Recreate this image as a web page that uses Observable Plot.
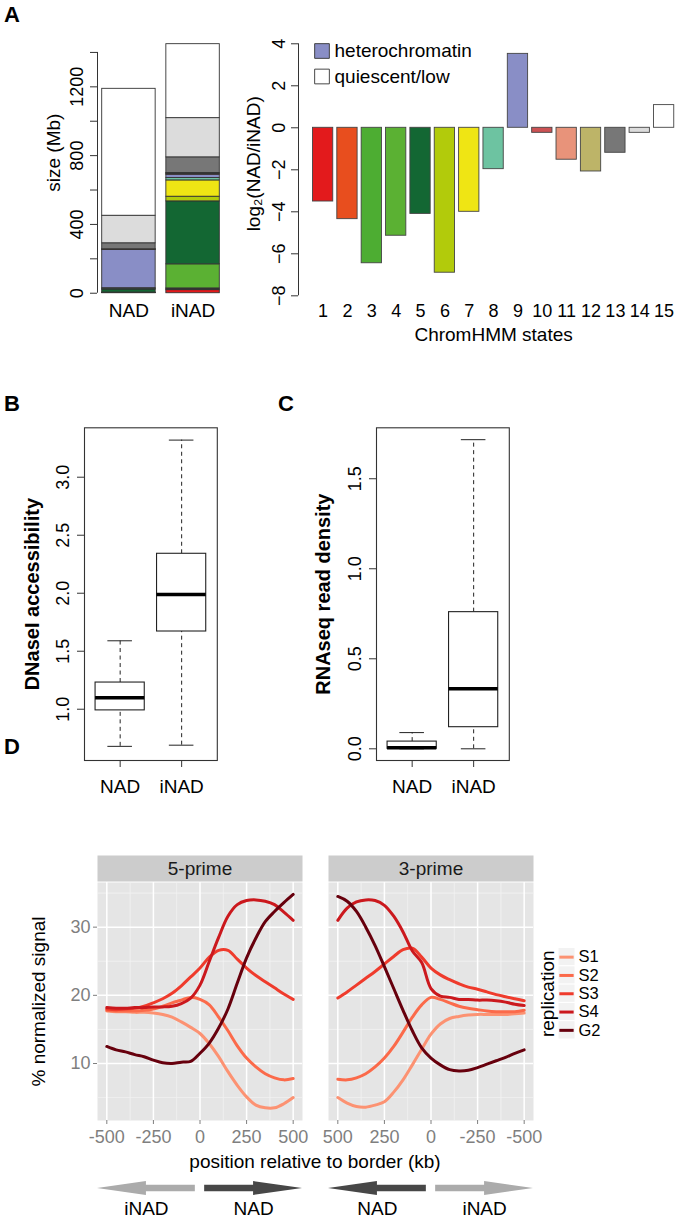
<!DOCTYPE html>
<html><head><meta charset="utf-8">
<script src="https://cdn.jsdelivr.net/npm/d3@7"></script>
<script src="https://cdn.jsdelivr.net/npm/@observablehq/plot@0.6"></script>
<style>
html,body{margin:0;padding:0;background:#fff;}
#fig{position:relative;width:675px;height:1218px;overflow:hidden;background:#fff;font-family:"Liberation Sans",Arial,Helvetica,sans-serif;color:#000;}
.tag{position:absolute;font-weight:bold;font-size:22px;line-height:22px;}
.xt{position:absolute;font-size:19px;line-height:22px;text-align:center;}
</style></head><body><div id="fig"></div>
<script>
// ---------------- DATA ----------------
// Panel A
const stateIds = [1,2,3,4,5,6,7,8,9,10,11,12,13,14,15];
const stateColors = ["#E31A1C","#E84E1E","#4DAD32","#5BB133","#136733","#B2CB0B","#EFE514","#6DC3A1","#898EC6","#CC5254","#E8937A","#BDB468","#777777","#DCDCDC","#FFFFFF"];
const regionGroups = ["NAD","iNAD"];
const nadSizeMb  = [1, 0.5, 0.5, 2, 18, 0.3, 4, 3, 222, 2, 1.5, 0.6, 35, 160, 738];
const inadSizeMb = [18, 5, 5, 140, 366, 27, 95, 14, 19, 3, 4, 3, 91, 228, 430];
const sizeTicks = [0,200,400,600,800,1000,1200,1400];
const sizeTickLabels = [0,400,800,1200];
const log2Ratio = [-3.51,-4.35,-6.45,-5.14,-4.10,-6.90,-4.00,-1.97,3.52,-0.24,-1.52,-2.08,-1.19,-0.24,1.08];
const ratioTicks = [-8,-6,-4,-2,0,2,4];
const legendStates = ["heterochromatin","quiescent/low"];
const legendStateIndex = [8, 14];
// Panel B (DNaseI accessibility)
const dnaseLow = [0.68, 0.69];
const dnaseQ1  = [0.99, 1.67];
const dnaseMed = [1.10, 1.99];
const dnaseQ3  = [1.23, 2.34];
const dnaseHigh= [1.59, 3.32];
const dnaseTicks = [1.0,1.5,2.0,2.5,3.0];
// Panel C (RNAseq read density)
const rnaLow = [0.0, 0.0];
const rnaQ1  = [0.0, 0.12];
const rnaMed = [0.006, 0.333];
const rnaQ3  = [0.04, 0.759];
const rnaHigh= [0.09, 1.717];
const rnaTicks = [0.0,0.5,1.0,1.5];
// Panel D
const facets = ["5-prime","3-prime"];
const facetSign = [1, -1];
const positionKb = [-500,-450,-400,-350,-300,-250,-200,-150,-100,-50,0,50,100,150,200,250,300,350,400,450,500];
const positionTicks = [-500,-250,0,250,500];
const seriesNames = ["S1","S2","S3","S4","G2"];
const seriesColors = ["#FC9272","#FB6A4A","#EF3B2C","#CB181D","#67000D"];
const fiveS1 = [17.7,17.6,17.6,17.5,17.5,17.4,17.2,16.8,16.1,15.3,14.4,12.9,11.0,8.8,6.8,5.1,3.9,3.5,3.5,4.1,5.0];
const fiveS2 = [17.8,17.7,17.7,17.7,17.8,18.0,18.4,18.9,19.3,19.7,19.4,18.6,16.8,14.8,12.6,10.8,9.5,8.5,7.9,7.6,7.8];
const fiveS3 = [18.0,17.9,18.0,18.1,18.4,18.9,19.5,20.3,21.4,22.7,24.0,25.6,26.6,26.6,25.3,24.0,22.9,22.0,21.1,20.2,19.4];
const fiveS4 = [18.2,18.1,18.1,18.2,18.2,18.3,18.3,18.4,18.8,19.6,21.5,25.0,28.5,31.6,33.3,33.9,34.0,33.8,33.3,32.2,31.0];
const fiveG2 = [12.5,12.0,11.7,11.3,11.0,10.5,10.1,10.0,10.2,10.3,11.5,13.0,15.2,18.0,21.8,25.5,28.4,30.8,32.3,33.6,34.8];
const threeS1 = [17.4,17.3,17.2,17.2,17.2,17.2,17.1,16.9,16.6,15.8,14.3,12.1,9.8,7.6,5.8,4.4,3.9,3.6,3.7,4.2,5.0];
const threeS2 = [17.8,17.6,17.6,17.6,17.7,17.9,18.1,18.4,18.9,19.4,19.7,18.6,16.8,14.6,12.5,10.8,9.5,8.5,7.9,7.6,7.7];
const threeS3 = [19.2,19.5,19.8,20.1,20.5,20.9,21.2,21.7,22.3,23.0,24.0,25.6,26.9,26.7,25.7,24.6,23.5,22.5,21.5,20.5,19.6];
const threeS4 = [18.5,18.7,19.0,19.2,19.3,19.3,19.4,19.4,19.7,19.9,21.0,24.8,26.5,29.3,31.6,33.2,33.9,34.0,33.7,32.8,31.0];
const threeG2 = [12.0,11.5,10.9,10.4,9.9,9.4,9.0,8.9,9.1,9.8,10.8,12.3,14.8,17.8,21.0,24.2,27.3,30.0,32.3,33.8,34.5];
// arrows under panel D (tail -> tip, in kb)
const arrowLabels = ["iNAD","NAD"];
const arrowTail = [-25, 25];
const arrowTip = [-550, 550];
const arrowFill = ["#ABABAB","#474747"];

// ---------------- LAYOUT HELPERS ----------------
const FONT = '"Liberation Sans", Arial, Helvetica, sans-serif';
const fig = document.getElementById("fig");
const baseStyle = {fontFamily: FONT, fontSize: "18px", background: "transparent", color: "#000", overflow: "visible"};
function place(el, left, top) {
  el.style.position = "absolute";
  el.style.left = left + "px";
  el.style.top = top + "px";
  el.style.maxWidth = "none";
  fig.appendChild(el);
}
function tag(text, left, top, cls = "tag") {
  const d = document.createElement("div");
  d.className = cls; d.textContent = text;
  d.style.left = left + "px"; d.style.top = top + "px";
  fig.appendChild(d);
  return d;
}
const minus = d => d < 0 ? "\u2212" + Math.abs(d) : String(d);
const mid = {textAnchor: "middle", lineAnchor: "middle"};

// ---------------- PANEL A (stacked sizes) ----------------
const barXDomain = [0.112, 2.488];
const stackRows = [];
[nadSizeMb, inadSizeMb].forEach((sizes, gi) => {
  let acc = 0; const x1 = 0.2 + gi * 1.2;
  sizes.forEach((v, si) => {
    stackRows.push({group: regionGroups[gi], x1, x2: x1 + 1, y1: acc, y2: acc + v, color: stateColors[si]});
    acc += v;
  });
});
const pa1 = Plot.plot({
  width: 235, height: 330, marginLeft: 97, marginRight: 11, marginTop: 33.7, marginBottom: 27.3,
  x: {domain: barXDomain, axis: null},
  y: {domain: [-58, 1506], axis: null},
  color: {type: "identity"},
  style: baseStyle,
  marks: [
    Plot.rect(stackRows, {x1: "x1", x2: "x2", y1: "y1", y2: "y2", fill: "color", stroke: "#333", strokeWidth: 0.9}),
    Plot.ruleX([barXDomain[0]], {y1: sizeTicks[0], y2: sizeTicks[sizeTicks.length - 1], stroke: "#333"}),
    Plot.axisY({ticks: sizeTicks, tickSize: 7, tickFormat: () => "", label: null, color: "#333"}),
    Plot.text(sizeTickLabels, {...mid, y: d => d, text: d => String(d), frameAnchor: "left", rotate: -90, dx: -20, fontSize: 18}),
    Plot.text(regionGroups, {...mid, x: (d, i) => 0.7 + 1.2 * i, text: d => d, frameAnchor: "bottom", dy: 7.5, fontSize: 19}),
    Plot.text(["size (Mb)"], {...mid, text: d => d, frameAnchor: "left", rotate: -90, dx: -44, dy: -16, fontSize: 19})
  ]
});
place(pa1, 0, 0);

// ---------------- PANEL A (log2 ratio) ----------------
const ratioXDomain = [-0.512, 18.712];
const pa2 = Plot.plot({
  width: 445, height: 345, marginLeft: 68, marginRight: 0, marginTop: 33.2, marginBottom: 39.6,
  x: {domain: ratioXDomain, range: [68, 458.2], axis: null},
  y: {domain: [-8.48, 4.48], axis: null},
  color: {type: "identity"},
  style: baseStyle,
  marks: [
    Plot.rect(stateIds, {x1: (d, i) => 0.2 + 1.2 * i, x2: (d, i) => 1.2 + 1.2 * i, y1: 0, y2: (d, i) => log2Ratio[i],
      fill: (d, i) => stateColors[i], stroke: "#444", strokeWidth: 0.9}),
    Plot.ruleX([ratioXDomain[0]], {y1: ratioTicks[0], y2: ratioTicks[ratioTicks.length - 1], stroke: "#333"}),
    Plot.axisY({ticks: ratioTicks, tickSize: 7, tickFormat: () => "", label: null, color: "#333"}),
    Plot.text(ratioTicks, {...mid, y: d => d, text: minus, frameAnchor: "left", rotate: -90, dx: -19, fontSize: 18}),
    Plot.text(stateIds, {...mid, x: (d, i) => 0.7 + 1.2 * i, text: d => String(d), frameAnchor: "bottom", dy: 5, fontSize: 18}),
    Plot.text(["ChromHMM states"], {...mid, x: () => (ratioXDomain[0] + ratioXDomain[1]) / 2, text: d => d, frameAnchor: "bottom", dy: 29, fontSize: 19}),
    Plot.text(["log\u2082(NAD/iNAD)"], {...mid, text: d => d, frameAnchor: "left", rotate: -90, dx: -45, dy: -6, fontSize: 19}),
    ...legendStates.map((name, k) => Plot.dot([name], {frameAnchor: "top-left", dx: 23.5, dy: 17.3 + 25.5 * k,
      symbol: "square", r: 8.3, fill: stateColors[legendStateIndex[k]], stroke: "#333", strokeWidth: 0.9})),
    ...legendStates.map((name, k) => Plot.text([name], {frameAnchor: "top-left", dx: 36, dy: 17.3 + 25.5 * k,
      text: d => d, textAnchor: "start", lineAnchor: "middle", fontSize: 19}))
  ]
});
place(pa2, 230, 0);

// ---------------- PANELS B & C (box plots) ----------------
function boxPanel({low, q1, med, q3, high, ticks, fmt, yDomain, title, width, marginLeft, titleDx}) {
  const boxXDomain = [0.42, 2.58];
  return Plot.plot({
    width, height: 460, marginLeft, marginRight: width - marginLeft - 132.8, marginTop: 87.3, marginBottom: 40,
    x: {domain: boxXDomain, axis: null},
    y: {domain: yDomain, axis: null},
    style: baseStyle,
    marks: [
      Plot.ruleX(regionGroups, {x: (d, i) => i + 1, y1: (d, i) => q3[i], y2: (d, i) => high[i], strokeDasharray: "4,3.5", stroke: "#222"}),
      Plot.ruleX(regionGroups, {x: (d, i) => i + 1, y1: (d, i) => low[i], y2: (d, i) => q1[i], strokeDasharray: "4,3.5", stroke: "#222"}),
      Plot.ruleY(regionGroups, {y: (d, i) => high[i], x1: (d, i) => i + 0.8, x2: (d, i) => i + 1.2, stroke: "#222"}),
      Plot.ruleY(regionGroups, {y: (d, i) => low[i], x1: (d, i) => i + 0.8, x2: (d, i) => i + 1.2, stroke: "#222"}),
      Plot.rect(regionGroups, {x1: (d, i) => i + 0.6, x2: (d, i) => i + 1.4, y1: (d, i) => q1[i], y2: (d, i) => q3[i], fill: "white", stroke: "#222", strokeWidth: 1.1}),
      Plot.ruleY(regionGroups, {y: (d, i) => med[i], x1: (d, i) => i + 0.6, x2: (d, i) => i + 1.4, stroke: "#000", strokeWidth: 3.5}),
      Plot.frame({stroke: "#333", strokeWidth: 1.1}),
      Plot.axisY({ticks, tickSize: 7, tickFormat: () => "", label: null, color: "#333"}),
      Plot.text(ticks, {...mid, y: d => d, text: fmt, frameAnchor: "left", rotate: -90, dx: -21, fontSize: 18}),
      Plot.axisX({ticks: [1, 2], tickSize: 7, tickFormat: () => "", label: null, color: "#333"}),
      Plot.text(regionGroups, {...mid, x: (d, i) => i + 1, text: d => d, frameAnchor: "bottom", dy: 26, fontSize: 19}),
      Plot.text([title], {...mid, text: d => d, frameAnchor: "left", rotate: -90, dx: titleDx, fontWeight: "bold", fontSize: 20})
    ]
  });
}
const pb = boxPanel({low: dnaseLow, q1: dnaseQ1, med: dnaseMed, q3: dnaseQ3, high: dnaseHigh,
  ticks: dnaseTicks, fmt: d => d.toFixed(1), yDomain: [0.558, 3.426], title: "DNaseI accessibility",
  width: 240, marginLeft: 84, titleDx: -52});
place(pb, 0, 340);
const pc = boxPanel({low: rnaLow, q1: rnaQ1, med: rnaMed, q3: rnaQ3, high: rnaHigh,
  ticks: rnaTicks, fmt: d => d.toFixed(1), yDomain: [-0.065, 1.783], title: "RNAseq read density",
  width: 250, marginLeft: 96, titleDx: -53});
place(pc, 280, 340);

// ---------------- PANEL D ----------------
const fiveSeries = [fiveS1, fiveS2, fiveS3, fiveS4, fiveG2];
const threeSeries = [threeS1, threeS2, threeS3, threeS4, threeG2];
const profileRows = [];
[fiveSeries, threeSeries].forEach((set, fi) => {
  set.forEach((vals, si) => {
    vals.forEach((v, k) => profileRows.push({facet: facets[fi], series: seriesNames[si], xp: facetSign[fi] * positionKb[k], v}));
  });
});
const xTickRows = [];
facets.forEach((f, fi) => positionTicks.forEach(t => xTickRows.push({facet: f, xp: facetSign[fi] * t, label: String(t)})));
const dXDomain = [-550, 550];
const fxOpts = {domain: facets, padding: 0.112, axis: null};
const dW = 600, dML = 96, dMR = 66;

const dStrip = Plot.plot({
  width: dW, height: 26, marginLeft: dML, marginRight: dMR, marginTop: 0, marginBottom: 0,
  fx: fxOpts, style: baseStyle,
  marks: [
    Plot.frame({fill: "#CCCCCC", stroke: null}),
    Plot.text(facets, {...mid, fx: d => d, text: d => d, frameAnchor: "middle", fontSize: 19, fill: "#1A1A1A"})
  ]
});
place(dStrip, 0, 855);

const dMain = Plot.plot({
  width: dW, height: 300, marginLeft: dML, marginRight: dMR, marginTop: 22, marginBottom: 40,
  fx: fxOpts,
  x: {domain: dXDomain, axis: null},
  y: {domain: [1.64, 36.55], axis: null},
  color: {domain: seriesNames, range: seriesColors},
  style: baseStyle,
  marks: [
    Plot.frame({fill: "#E5E5E5", stroke: null}),
    Plot.gridX({ticks: [-375, -125, 125, 375], stroke: "#F2F2F2", strokeOpacity: 1, strokeWidth: 0.8}),
    Plot.gridY({ticks: [5, 15, 25, 35], stroke: "#F2F2F2", strokeOpacity: 1, strokeWidth: 0.8}),
    Plot.gridX({ticks: positionTicks, stroke: "#FFFFFF", strokeOpacity: 1, strokeWidth: 1.5}),
    Plot.gridY({ticks: [10, 20, 30], stroke: "#FFFFFF", strokeOpacity: 1, strokeWidth: 1.5}),
    Plot.line(profileRows, {fx: "facet", x: "xp", y: "v", z: "series", stroke: "series", strokeWidth: 3, curve: "catmull-rom"}),
    Plot.axisY({ticks: [10, 20, 30], tickSize: 4, tickPadding: 3, color: "#7F7F7F", fontSize: 18, label: null}),
    Plot.axisX({ticks: positionTicks, tickSize: 4, tickFormat: () => "", color: "#7F7F7F", label: null}),
    Plot.text(xTickRows, {...mid, fx: "facet", x: "xp", text: "label", frameAnchor: "bottom", dy: 17, fill: "#7F7F7F", fontSize: 18}),
    Plot.text([facets[0]], {...mid, fx: d => d, text: () => "% normalized signal", frameAnchor: "left", rotate: -90, dx: -59, fontSize: 19})
  ]
});
place(dMain, 0, 860);

// legend
const dLegend = Plot.plot({
  width: 135, height: 120, margin: 0,
  x: {domain: [0, 1], range: [18, 35], axis: null},
  y: {domain: [-0.5, 4.5], range: [17.5, 109], axis: null},
  color: {domain: seriesNames, range: seriesColors},
  style: baseStyle,
  marks: [
    Plot.rect(seriesNames, {x1: 0, x2: 1, y1: (d, i) => i - 0.5, y2: (d, i) => i + 0.5, fill: "#F2F2F2", stroke: "#FFFFFF", strokeWidth: 1}),
    Plot.ruleY(seriesNames, {y: (d, i) => i, x1: 0.08, x2: 0.92, stroke: d => d, strokeWidth: 3}),
    Plot.text(seriesNames, {x: 1, y: (d, i) => i, text: d => d, dx: 3, textAnchor: "start", lineAnchor: "middle", fontSize: 16.5}),
    Plot.text(["replication"], {...mid, x: 0, y: 2, text: d => d, rotate: -90, dx: -11, fontSize: 19})
  ]
});
place(dLegend, 540, 930);

// arrows
const arrowHead = 0.5, shaftHalf = 0.48;
const arrowPts = [];
facets.forEach((f, fi) => {
  arrowLabels.forEach((lab, ai) => {
    const t = facetSign[fi] * arrowTail[ai], p = facetSign[fi] * arrowTip[ai];
    const h = p - arrowHead * (p - t);
    const id = f + lab;
    [[t, -shaftHalf, shaftHalf], [h, -shaftHalf, shaftHalf], [h, -1, 1], [p, 0, 0]]
      .forEach(([x, lo, hi]) => arrowPts.push({facet: f, id, x, lo, hi, fill: arrowFill[ai]}));
  });
});
const arrowText = [];
facets.forEach((f, fi) => arrowLabels.forEach((lab, ai) =>
  arrowText.push({facet: f, label: lab, x: facetSign[fi] * (arrowTail[ai] + arrowTip[ai]) / 2})));
const dArrows = Plot.plot({
  width: dW, height: 42, marginLeft: dML, marginRight: dMR, marginTop: 5, marginBottom: 23,
  fx: fxOpts,
  x: {domain: dXDomain, axis: null},
  y: {domain: [-1, 1], axis: null},
  color: {type: "identity"},
  style: baseStyle,
  marks: [
    Plot.areaY(arrowPts, {fx: "facet", x: "x", y1: "lo", y2: "hi", z: "id", fill: "fill", curve: "linear"}),
    Plot.text(arrowText, {...mid, fx: "facet", x: "x", text: "label", frameAnchor: "bottom", dy: 13, fontSize: 19})
  ]
});
place(dArrows, 0, 1176);

const xt = tag("position relative to border (kb)", 0, 1151, "xt");
xt.style.width = "630px";

tag("A", 4, 4);
tag("B", 4, 393);
tag("C", 278, 393);
tag("D", 4, 736);
</script></body></html>
